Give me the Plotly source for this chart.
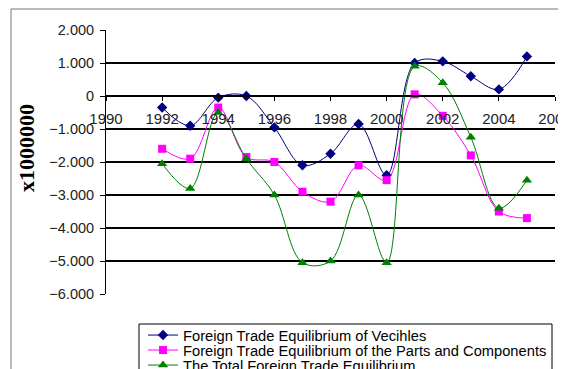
import plotly.graph_objects as go

years = [1992, 1993, 1994, 1995, 1996, 1997, 1998, 1999, 2000, 2001, 2002, 2003, 2004, 2005]
vehicles = [-350, -900, -50, 0, -950, -2100, -1750, -850, -2400, 1000, 1050, 600, 200, 1200]
parts = [-1600, -1900, -350, -1850, -2000, -2900, -3200, -2100, -2550, 50, -600, -1800, -3500, -3700]
total = [-2050, -2800, -500, -1900, -3000, -5050, -5000, -3000, -5050, 900, 400, -1250, -3400, -2550]

names = ["Foreign Trade Equilibrium of Vecihles",
         "Foreign Trade Equilibrium of the Parts and Components",
         "The Total Foreign Trade Equilibrium"]
colors = ["#000080", "#FF00FF", "#008000"]
symbols = ["diamond", "square", "triangle-up"]
sizes = [8, 8, 9]
series = [vehicles, parts, total]
legends = ["legend", "legend2", "legend3"]

OFF = 8  # page body margin
W, H = 566 - OFF, 369 - OFF
L, R, T, B = 106, 555, 30, 294  # plot area in window pixels
pw, ph = R - L, B - T

def px(x):
    return (x - L) / pw

def py(y):
    return (B - y) / ph

fig = go.Figure()
for s, n, c, sym, sz, lg in zip(series, names, colors, symbols, sizes, legends):
    fig.add_trace(go.Scatter(
        x=years, y=s, name=n, mode="lines+markers",
        line=dict(color=c, width=1, shape="spline", smoothing=1),
        marker=dict(symbol=sym, size=sz, color=c),
        legend=lg,
    ))

leg_common = dict(bgcolor="rgba(0,0,0,0)", borderwidth=0,
                  font=dict(family="Liberation Sans, Arial", size=14.7, color="#000"),
                  xanchor="left", yanchor="top", itemwidth=30, tracegroupgap=0)
row_y = [319, 334, 349]
layout_legs = {}
for i, lg in enumerate(legends):
    layout_legs[lg] = dict(leg_common, x=px(143), y=py(row_y[i]))

fig.update_layout(
    width=W, height=H,
    margin=dict(l=L - OFF, r=W - (R - OFF), t=T - OFF, b=H - (B - OFF), autoexpand=False),
    paper_bgcolor="white", plot_bgcolor="white",
    separators=",.",
    showlegend=True,
    **layout_legs,
    xaxis=dict(range=[1990, 2006], dtick=2, tick0=1990,
               anchor="free", position=0.75,
               showgrid=False, zeroline=False,
               showline=True, linecolor="#000", linewidth=1.5,
               ticks="outside", ticklen=4, tickcolor="#000",
               ticklabelstandoff=5, ticklabeloverflow="allow",
               tickfont=dict(family="Liberation Sans, Arial", size=15, color="#222")),
    yaxis=dict(range=[-6000, 2000], dtick=1000, tickformat=",d",
               showgrid=True, gridcolor="#000", gridwidth=1.5,
               zeroline=False,
               showline=True, linecolor="#000", linewidth=1,
               ticks="outside", ticklen=5, tickcolor="#000",
               ticklabelstandoff=3,
               tickfont=dict(family="Liberation Sans, Arial", size=14.5, color="#222")),
    annotations=[dict(text="<b>x1000000</b>", textangle=-90, showarrow=False,
                      xref="paper", yref="paper", x=px(26), y=py(148),
                      xanchor="center", yanchor="middle",
                      font=dict(family="Liberation Serif, Times New Roman", size=22, color="#000"))],
    shapes=[
        dict(type="rect", xref="paper", yref="paper",
             x0=px(11), x1=px(600), y0=py(9), y1=py(450),
             line=dict(color="#777", width=1), layer="below"),
        dict(type="rect", xref="paper", yref="paper",
             x0=px(139), x1=px(552), y0=py(324), y1=py(450),
             line=dict(color="#000", width=1)),
    ],
)

fig.write_html("out.html")
